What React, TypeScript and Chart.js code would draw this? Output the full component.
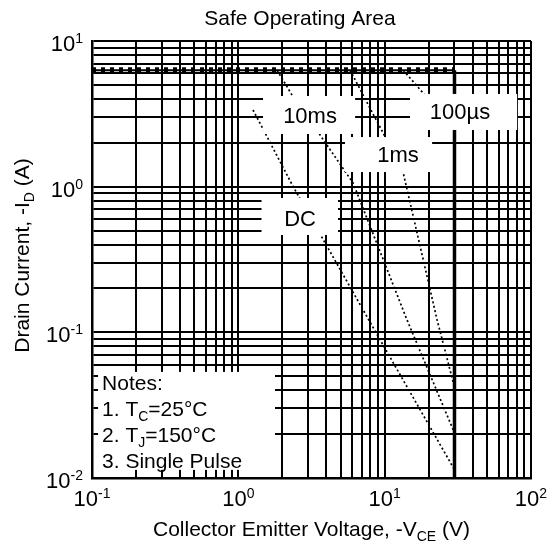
import React, { useEffect, useRef } from 'react';
import { Chart, registerables } from 'chart.js';

Chart.register(...registerables);

// ---------- data ----------
const TITLE = 'Safe Operating Area';
const X_DECADES = [0.1, 1, 10, 100];
const X_EXPONENTS = ['-1', '0', '1', '2'];
const Y_DECADES = [0.01, 0.1, 1, 10];
const Y_EXPONENTS = ['-2', '-1', '0', '1'];

// current limit (horizontal) and voltage limit (vertical)
const LIMIT_V = [0.1, 30];
const LIMIT_I = [6.3, 6.3];
const VMAX_V = [30, 30];
const VMAX_I = [6.3, 0.01];

// pulse curves
const US100_V = [13.4, 18.3, 30];
const US100_I = [6.3, 4.4, 2.5];
const MS1_V = [5.8, 9.75, 13.4, 22.8, 30];
const MS1_I = [6.3, 2.34, 1.24, 0.122, 0.042];
const MS10_V = [1.84, 2.37, 3.62, 6.08, 14.2, 30];
const MS10_I = [6.3, 4.13, 2.26, 1.06, 0.122, 0.0204];
const DC_V = [1.26, 2.37, 8.7, 30];
const DC_I = [3.36, 1.0, 0.1, 0.0114];

const CURVE_LABELS = ['100µs', '1ms', '10ms', 'DC'];

type Seg = { t: string; s?: 'sub' | 'sup' };
const NOTES: Seg[][] = [
  [{ t: 'Notes:' }],
  [{ t: '1. T' }, { t: 'C', s: 'sub' }, { t: '=25°C' }],
  [{ t: '2. T' }, { t: 'J', s: 'sub' }, { t: '=150°C' }],
  [{ t: '3. Single Pulse' }],
];
const X_TITLE: Seg[] = [{ t: 'Collector Emitter Voltage, -V' }, { t: 'CE', s: 'sub' }, { t: ' (V)' }];
const Y_TITLE: Seg[] = [{ t: 'Drain Current, -I' }, { t: 'D', s: 'sub' }, { t: ' (A)' }];

// ---------- layout (in data units of the axes) ----------
const LABEL_BOXES = [
  { x0: 14.9, x1: 80.4, y0: 2.45, y1: 4.33, tx: 32.7, ty: 3.31 },
  { x0: 5.36, x1: 21.1, y0: 1.26, y1: 2.19, tx: 12.35, ty: 1.68 },
  { x0: 1.475, x1: 6.28, y0: 2.3, y1: 4.19, tx: 3.09, ty: 3.1 },
  { x0: 1.44, x1: 4.8, y0: 0.466, y1: 0.836, tx: 2.64, ty: 0.61 },
];
const NOTES_BOX = { x0: 0.11, x1: 1.78, y0: 0.01137, y1: 0.0535 };

const FONT = '"Liberation Sans", Arial, Helvetica, sans-serif';

function gridValues(decades: number[]): number[] {
  const out: number[] = [];
  for (let i = 0; i < decades.length - 1; i++) {
    for (let m = 1; m <= 9; m++) out.push(+(m * decades[i]).toPrecision(3));
  }
  out.push(decades[decades.length - 1]);
  return out;
}

function pts(xs: number[], ys: number[]) {
  return xs.map((x, i) => ({ x, y: ys[i] }));
}

function drawRich(
  ctx: CanvasRenderingContext2D,
  segs: Seg[],
  x: number,
  y: number,
  size: number,
  align: 'left' | 'center' | 'right',
  small = Math.round(size * 0.64),
  supRise = 0.36,
  subDrop = 0.22
) {
  ctx.textAlign = 'left';
  ctx.textBaseline = 'alphabetic';
  const ws = segs.map((sg) => {
    ctx.font = `${sg.s ? small : size}px ${FONT}`;
    return ctx.measureText(sg.t).width;
  });
  const total = ws.reduce((a, b) => a + b, 0);
  let cx = align === 'left' ? x : align === 'center' ? x - total / 2 : x - total;
  segs.forEach((sg, i) => {
    ctx.font = `${sg.s ? small : size}px ${FONT}`;
    const dy = sg.s === 'sub' ? size * subDrop : sg.s === 'sup' ? -size * supRise : 0;
    ctx.fillText(sg.t, cx, y + dy);
    cx += ws[i];
  });
}

const textPlugin = {
  id: 'soaText',
  afterDatasetsDraw(chart: any) {
    const ctx: CanvasRenderingContext2D = chart.ctx;
    const xs = chart.scales.x;
    const ys = chart.scales.y;
    ctx.save();
    ctx.fillStyle = '#fff';
    LABEL_BOXES.forEach((b) => {
      const l = xs.getPixelForValue(b.x0);
      const r = xs.getPixelForValue(b.x1);
      const t = ys.getPixelForValue(b.y1);
      const bt = ys.getPixelForValue(b.y0);
      ctx.fillRect(l, t, r - l, bt - t);
    });
    const nl = xs.getPixelForValue(NOTES_BOX.x0);
    const nr = xs.getPixelForValue(NOTES_BOX.x1);
    const nt = ys.getPixelForValue(NOTES_BOX.y1);
    const nb = ys.getPixelForValue(NOTES_BOX.y0);
    ctx.fillRect(nl, nt, nr - nl, nb - nt);

    ctx.fillStyle = '#000';
    LABEL_BOXES.forEach((b, i) => {
      const cx = xs.getPixelForValue(b.tx);
      const cy = ys.getPixelForValue(b.ty);
      drawRich(ctx, [{ t: CURVE_LABELS[i] }], cx, cy + 8, 22, 'center');
    });
    NOTES.forEach((line, i) => {
      drawRich(ctx, line, nl + 4, nt + 18 + i * 26, 21, 'left', 14, 0.36, 0.24);
    });
    ctx.restore();
  },
  afterDraw(chart: any) {
    const ctx: CanvasRenderingContext2D = chart.ctx;
    const xs = chart.scales.x;
    const ys = chart.scales.y;
    const area = chart.chartArea;
    ctx.save();
    ctx.fillStyle = '#000';
    drawRich(ctx, [{ t: TITLE }], 300, 25, 21, 'center');
    X_DECADES.forEach((v, i) => {
      drawRich(ctx, [{ t: '10' }, { t: X_EXPONENTS[i], s: 'sup' }], xs.getPixelForValue(v), area.bottom + 28, 22, 'center', 14, 0.36);
    });
    Y_DECADES.forEach((v, i) => {
      drawRich(ctx, [{ t: '10' }, { t: Y_EXPONENTS[i], s: 'sup' }], area.left - 9, ys.getPixelForValue(v) + 10, 22, 'right', 14, 0.36);
    });
    drawRich(ctx, X_TITLE, (area.left + area.right) / 2, 536, 21, 'center', 14, 0.36, 0.24);
    ctx.translate(22, (area.top + area.bottom) / 2 - 4);
    ctx.rotate(-Math.PI / 2);
    drawRich(ctx, Y_TITLE, 0, 7, 21, 'center', 14, 0.36, 0.24);
    ctx.restore();
  },
};

export default function App() {
  const ref = useRef<HTMLCanvasElement | null>(null);

  useEffect(() => {
    if (!ref.current) return;
    const dotted = { borderColor: '#000', borderWidth: 1.7, borderDash: [2, 2.5], pointRadius: 0, fill: false, tension: 0 };
    const chart = new Chart(ref.current, {
      type: 'line',
      data: {
        datasets: [
          { label: 'limit', data: pts(LIMIT_V, LIMIT_I), borderColor: '#000', borderWidth: 2, pointRadius: 0, fill: false },
          { label: 'limit dots', data: pts(LIMIT_V, LIMIT_I), borderColor: '#000', borderWidth: 6, borderDash: [4, 5], pointRadius: 0, fill: false },
          { label: 'vmax', data: pts(VMAX_V, VMAX_I), borderColor: '#000', borderWidth: 3.5, pointRadius: 0, fill: false },
          { label: CURVE_LABELS[0], data: pts(US100_V, US100_I), ...dotted },
          { label: CURVE_LABELS[1], data: pts(MS1_V, MS1_I), ...dotted },
          { label: CURVE_LABELS[2], data: pts(MS10_V, MS10_I), ...dotted },
          { label: CURVE_LABELS[3], data: pts(DC_V, DC_I), ...dotted },
        ] as any,
      },
      options: {
        animation: false,
        responsive: true,
        maintainAspectRatio: false,
        devicePixelRatio: 1,
        layout: { padding: { top: 41, right: 19, bottom: 0, left: 0 } },
        plugins: {
          legend: { display: false },
          tooltip: { enabled: false },
          title: { display: false },
        },
        scales: {
          x: {
            type: 'logarithmic',
            min: 0.1,
            max: 100,
            afterBuildTicks: (s: any) => {
              s.ticks = gridValues(X_DECADES).map((v) => ({ value: v }));
            },
            afterFit: (s: any) => {
              s.height = 69;
            },
            ticks: { display: false },
            grid: { color: '#000', lineWidth: 2, drawTicks: false },
            border: { display: true, color: '#000', width: 2.5 },
          },
          y: {
            type: 'logarithmic',
            min: 0.01,
            max: 10,
            afterBuildTicks: (s: any) => {
              s.ticks = gridValues(Y_DECADES).map((v) => ({ value: v }));
            },
            afterFit: (s: any) => {
              s.width = 92;
            },
            ticks: { display: false },
            grid: { color: '#000', lineWidth: 2, drawTicks: false },
            border: { display: true, color: '#000', width: 2.5 },
          },
        },
      } as any,
      plugins: [textPlugin],
    });
    return () => chart.destroy();
  }, []);

  return (
    <div style={{ position: 'fixed', left: 0, top: 0, width: 550, height: 547, background: '#fff' }}>
      <canvas ref={ref} />
    </div>
  );
}
